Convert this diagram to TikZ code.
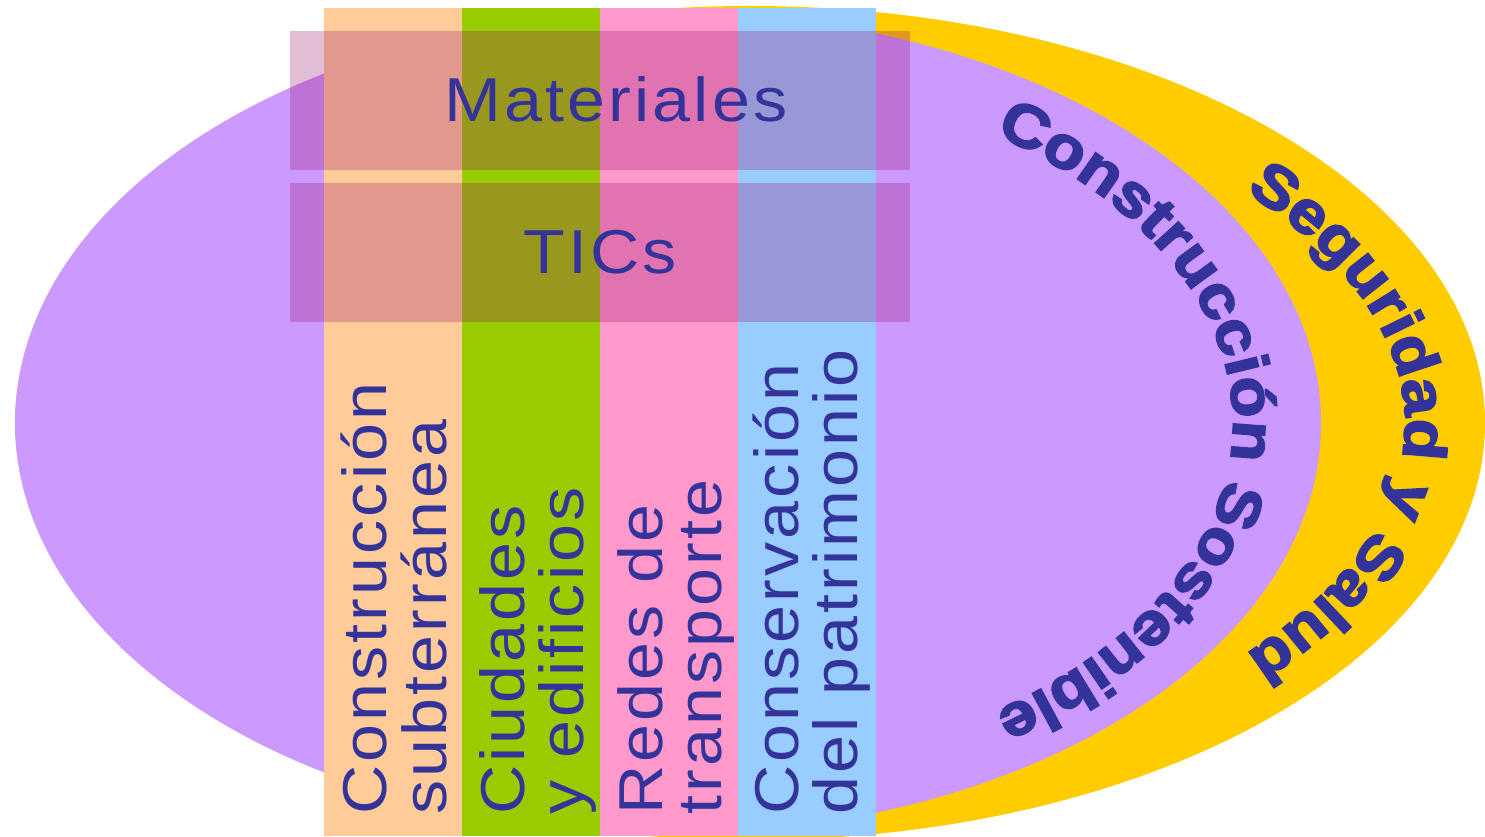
\documentclass[tikz,border=0pt]{standalone}
\usepackage{fontspec}
\setmainfont{Liberation Sans}
\usetikzlibrary{decorations.text}
\newfontfamily\lblfont[LetterSpace=5,FakeStretch=1.1]{Liberation Sans}
\newfontfamily\heavyfont[FakeBold=3,FakeStretch=1.12]{Liberation Sans Bold}
\definecolor{ink}{HTML}{333399}
\definecolor{lilac}{HTML}{CC99FF}
\definecolor{gold}{HTML}{FFCC00}
\definecolor{peach}{HTML}{FFCC99}
\definecolor{lime}{HTML}{99CC00}
\definecolor{rosa}{HTML}{FF99CC}
\definecolor{sky}{HTML}{99CCFF}
\definecolor{veil}{RGB}{153,20,110}
\begin{document}
\begin{tikzpicture}[x=1pt,y=1pt,
  collabel/.style={rotate=90,anchor=base west,inner sep=0pt,text=ink,font=\lblfont\fontsize{62}{62}\selectfont},
  bandlabel/.style={anchor=base,inner sep=0pt,text=ink,font=\lblfont\fontsize{62}{62}\selectfont},
  veilband/.style={fill=veil,fill opacity=0.28},
  arctext/.style={decorate,decoration={text along path,text align=center,text color=ink,
     text={|\heavyfont\fontsize{60}{60}\selectfont|#1}}}]
\useasboundingbox (0,0) rectangle (1485,836);
\fill[white] (0,0) rectangle (1485,836);
% ellipses
\fill[gold] (750,413) ellipse [x radius=735pt, y radius=417pt];
\fill[lilac] (668,413) ellipse [x radius=653pt, y radius=411pt];
% columns
\fill[peach] (324,0) rectangle (462,828);
\fill[lime] (462,0) rectangle (600,828);
\fill[rosa] (600,0) rectangle (738,828);
\fill[sky] (738,0) rectangle (876,828);
% translucent bands
\fill[veilband] (290,666) rectangle (910,805);
\fill[veilband] (290,514) rectangle (910,653);
% band labels
\node[bandlabel] (mat) at (616,714) {Materiales};
\node[bandlabel] (tic) at (600,562) {TICs};
% column labels
\node[collabel] (c1a) at (386,21) {Construcción};
\node[collabel] (c1b) at (446,21) {subterránea};
\node[collabel] (c2a) at (524,21) {Ciudades};
\node[collabel] (c2b) at (583,21) {y edificios};
\node[collabel] (c3a) at (662,21) {Redes de};
\node[collabel] (c3b) at (721,21) {transporte};
\node[collabel] (c4a) at (798,21) {Conservación};
\node[collabel] (c4b) at (857,21) {del patrimonio};
% curved labels
\path[arctext={Construcción Sostenible}]
  plot[domain=-80:80,samples=120,smooth,variable=\t] ({668+565*cos(\t)},{413-354*sin(\t)});
\path[arctext={Seguridad y Salud}]
  plot[domain=-80:80,samples=120,smooth,variable=\t] ({668+737*cos(\t)},{413-372*sin(\t)});
\end{tikzpicture}
\end{document}
